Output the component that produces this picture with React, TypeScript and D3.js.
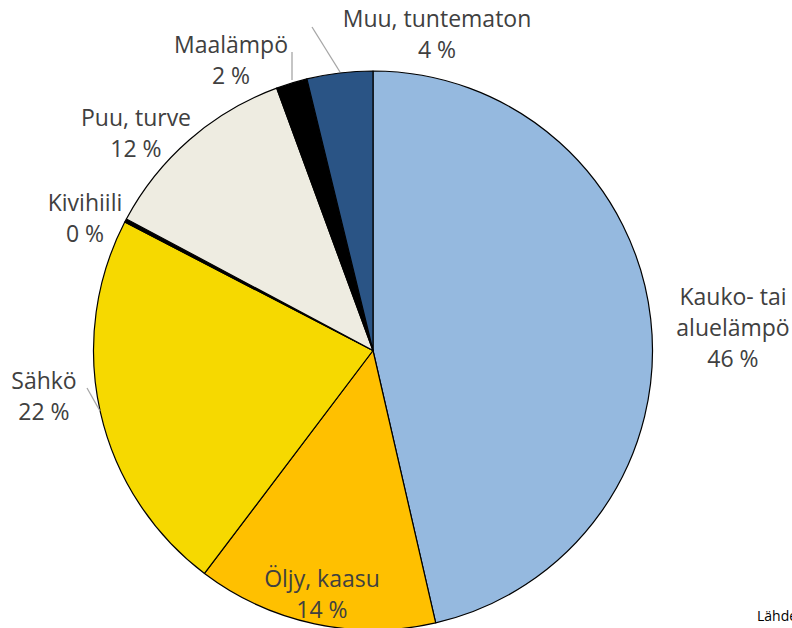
import React from "react";
import * as d3 from "d3";

const categories = ["Kauko- tai aluelämpö", "Öljy, kaasu", "Sähkö", "Kivihiili", "Puu, turve", "Maalämpö", "Muu, tuntematon"];
const values = [46.4, 13.9, 22.3, 0.2, 11.6, 1.8, 3.8];
const percentLabels = ["46 %", "14 %", "22 %", "0 %", "12 %", "2 %", "4 %"];
const labelLines = [["Kauko- tai", "aluelämpö"], ["Öljy, kaasu"], ["Sähkö"], ["Kivihiili"], ["Puu, turve"], ["Maalämpö"], ["Muu, tuntematon"]];
const colors = ["#95B9DF", "#FFC000", "#F6D900", "#000000", "#EEECE1", "#000000", "#2A5485"];

// layout: label anchor (center x, first baseline y)
const labelPos: [number, number][] = [
  [733, 305],
  [322, 587],
  [44, 389],
  [85, 211],
  [136, 126],
  [231, 53],
  [437, 27],
];
const leaders: [number, number, number, number][] = [
  [87, 388, 100, 411],
  [292, 52, 292, 80],
  [312, 27, 340, 72],
];

export default function App() {
  const W = 792, H = 628;
  const cx = 373, cy = 350.5, r = 279.5;
  const pie = d3.pie<number>().sort(null).value((d) => d);
  const arcs = pie(values);
  const arc = d3.arc<d3.PieArcDatum<number>>().innerRadius(0).outerRadius(r);
  const lh = 31;
  return (
    <svg width={W} height={H} style={{ position: "absolute", left: 0, top: 0, background: "#fff" }}
      fontFamily="'Open Sans', Lato, sans-serif">
      <g transform={`translate(${cx},${cy})`}>
        {arcs.map((a, i) => (
          <path key={i} d={arc(a) || ""} fill={colors[i]} stroke="#000" strokeWidth={1.2} strokeLinejoin="round" />
        ))}
      </g>
      {leaders.map((l, i) => (
        <line key={i} x1={l[0]} y1={l[1]} x2={l[2]} y2={l[3]} stroke="#A6A6A6" strokeWidth={1.3} />
      ))}
      {categories.map((c, i) => {
        const [x, y] = labelPos[i];
        const lines = [...labelLines[i], percentLabels[i]];
        return (
          <text key={c} x={x} y={y} textAnchor="middle" fontSize={23} fill="#404040">
            {lines.map((t, j) => (
              <tspan key={j} x={x} y={y + j * lh}>{t}</tspan>
            ))}
          </text>
        );
      })}
      <text x={757} y={621} fontSize={14} fill="#000">Lähde</text>
    </svg>
  );
}
